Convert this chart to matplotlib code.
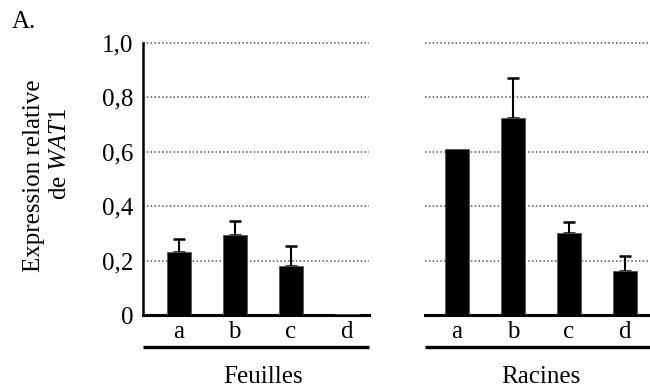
import numpy as np
import matplotlib.pyplot as plt

plt.rcParams['font.family'] = ['Liberation Serif', 'DejaVu Serif']
plt.rcParams['mathtext.fontset'] = 'custom'
plt.rcParams['mathtext.rm'] = 'Liberation Serif'
plt.rcParams['mathtext.it'] = 'Liberation Serif:italic'

# données
genotypes = ['a', 'b', 'c', 'd']
feuilles = [0.23, 0.295, 0.18, 0.004]
feuilles_err = [0.05, 0.05, 0.075, 0.0]
racines = [0.612, 0.725, 0.30, 0.162]
racines_err = [0.0, 0.145, 0.042, 0.056]
yticks = [0, 0.2, 0.4, 0.6, 0.8, 1.0]
ytick_labels = ['0', '0,2', '0,4', '0,6', '0,8', '1,0']

fig = plt.figure(figsize=(6.5, 3.92), dpi=100)
ax1 = fig.add_axes([143 / 650, 77 / 392, 226 / 650, 272 / 392])
ax2 = fig.add_axes([425 / 650, 77 / 392, 225 / 650, 272 / 392])

x = np.arange(len(genotypes))
fs = 18


def panel(ax, vals, errs, name):
    vals = np.array(vals)
    errs = np.array(errs)
    ax.bar(x, vals, width=0.43, color='black', edgecolor='#555555', linewidth=0.6, zorder=3)
    m = errs > 0
    ax.errorbar(x[m], vals[m], yerr=[np.zeros(m.sum()), errs[m]], fmt='none', ecolor='black',
                elinewidth=1.5, capsize=4.5, capthick=1.8, zorder=2)
    for t in yticks[1:]:
        ax.axhline(t, color='#555555', linestyle=(0, (1, 1.5)), linewidth=1.1, zorder=1, clip_on=False)
    ax.set_ylim(0, 1.0)
    ax.set_xlim(-0.64, 3.4)
    ax.set_xticks(x)
    ax.set_xticklabels(genotypes, fontsize=fs)
    ax.tick_params(axis='x', length=0, pad=4.5)
    for s in ['top', 'right', 'left']:
        ax.spines[s].set_visible(False)
    ax.spines['bottom'].set_linewidth(2.2)
    ax.plot([0, 1], [-0.118, -0.118], transform=ax.transAxes, color='black',
            linewidth=2.4, clip_on=False, solid_capstyle='butt')
    ax.text(1.5, -0.228, name, ha='center', va='center', fontsize=fs,
            transform=ax.get_xaxis_transform())


panel(ax1, feuilles, feuilles_err, 'Feuilles')
panel(ax2, racines, racines_err, 'Racines')
ax2.set_xlim(-0.57, 3.45)

ax1.spines['left'].set_visible(True)
ax1.spines['left'].set_linewidth(1.8)
ax1.set_yticks(yticks)
ax1.set_yticklabels(ytick_labels, fontsize=fs)
ax1.tick_params(axis='y', length=0, pad=7)
ax2.set_yticks([])

fig.text(34 / 650, 1 - 176 / 392, 'Expression relative', rotation=90,
         ha='center', va='center', fontsize=fs)
fig.text(60 / 650, 1 - 154 / 392, 'de $\\mathit{WAT1}$', rotation=90,
         ha='center', va='center', fontsize=fs)
fig.text(12 / 650, 1 - 22 / 392, 'A.', ha='left', va='center', fontsize=fs)

fig.savefig('out.png', dpi=100)
